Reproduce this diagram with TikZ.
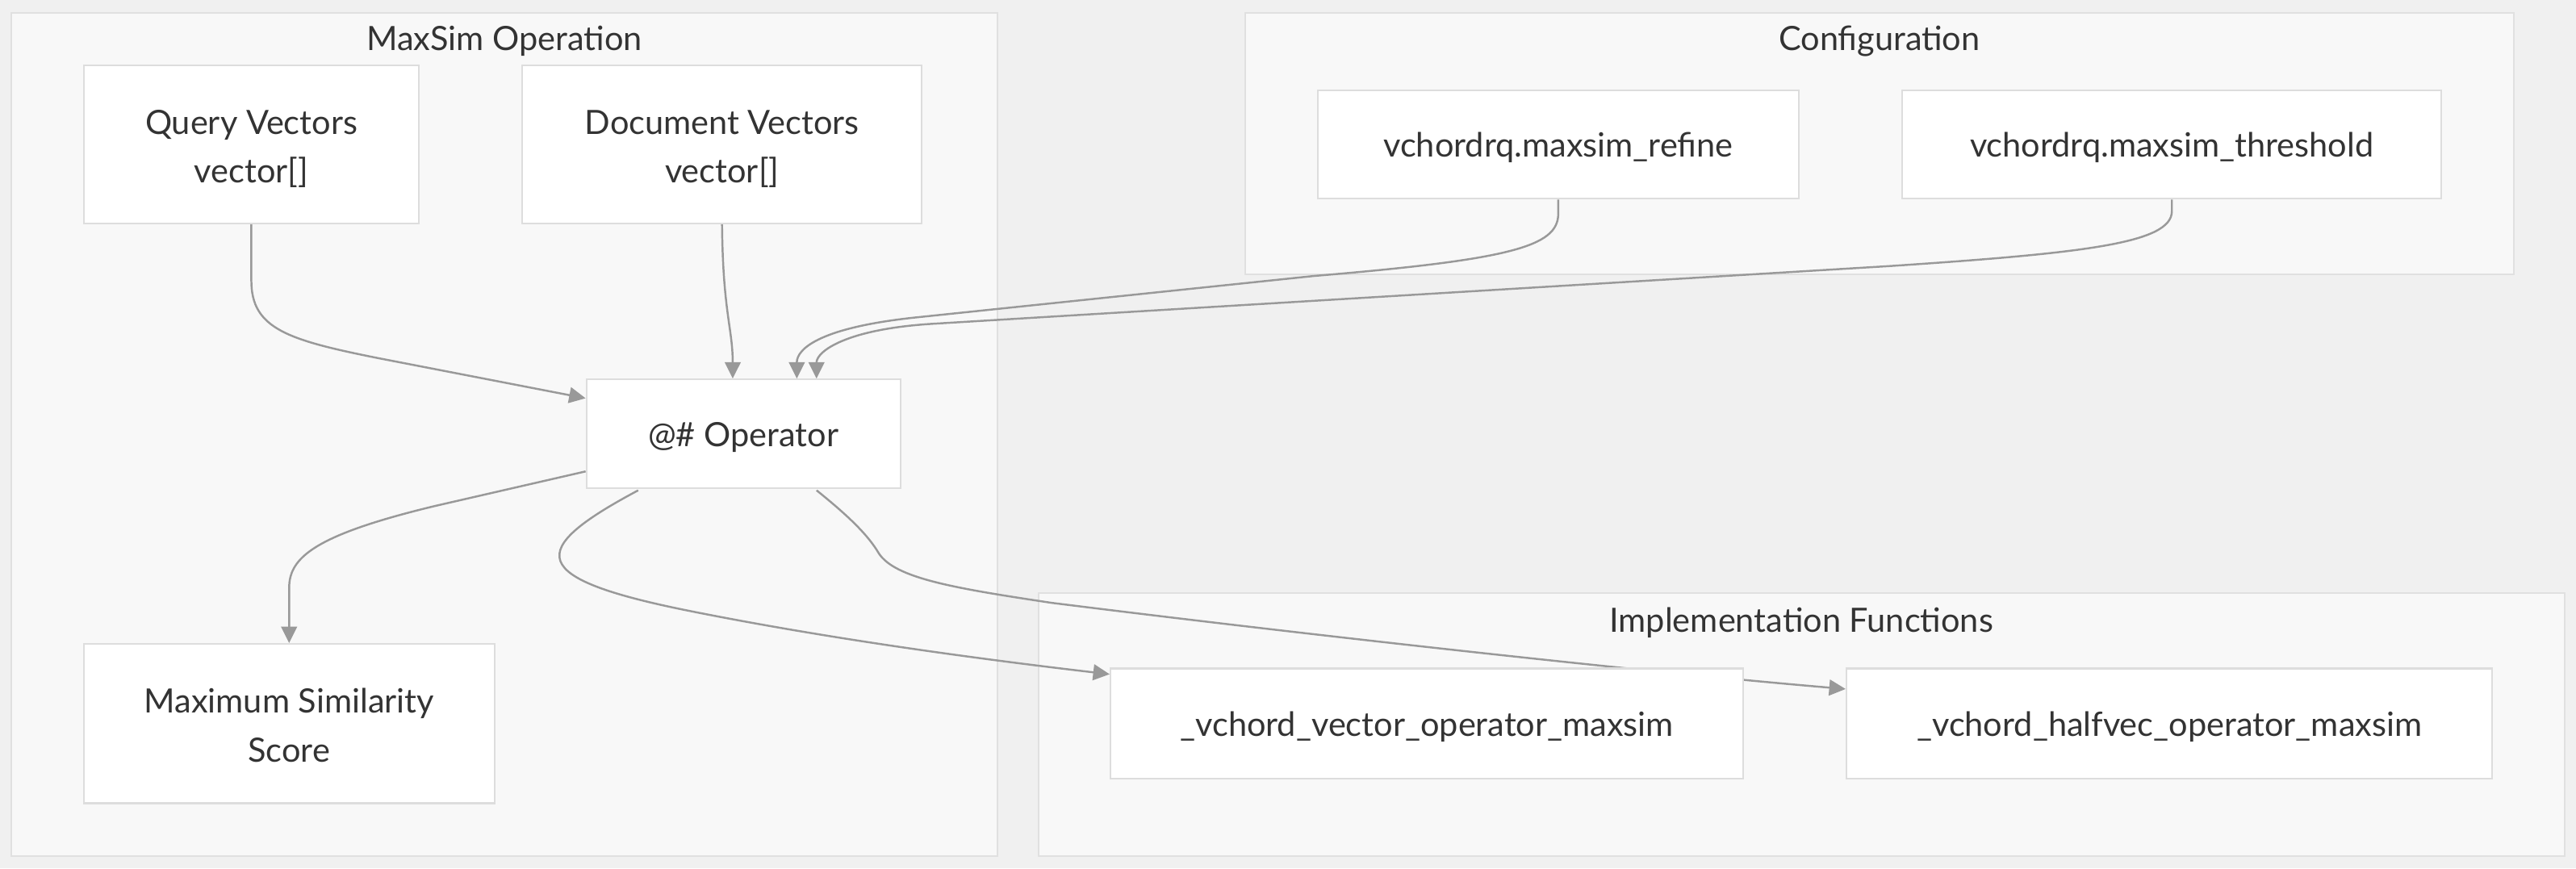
\documentclass[tikz,border=0pt]{standalone}
\usepackage{fontspec}
\setmainfont{Lato}
\usetikzlibrary{arrows.meta,calc}
\definecolor{pagebg}{HTML}{F0F0F0}
\definecolor{clusterbg}{HTML}{F8F8F8}
\definecolor{clusterline}{HTML}{E0E0E0}
\definecolor{boxline}{HTML}{DDDDDD}
\definecolor{linkgray}{HTML}{999999}
\definecolor{textgray}{HTML}{333333}
\pgfdeclarelayer{bg}
\pgfdeclarelayer{edgelayer}
\pgfsetlayers{bg,edgelayer,main}

\begin{document}
\begin{tikzpicture}[x=0.02036cm, y=-0.02036cm,
            every node/.style={font=\fontsize{11.8}{17.2}\selectfont, text=textgray,
                execute at begin node={\rule[-3pt]{0pt}{15pt}}, execute at end node={\rule[-3pt]{0pt}{0pt}}},
            box/.style 2 args={draw=boxline, fill=white, line width=0.6pt, inner sep=0pt, align=center,
                minimum width=#1*0.5793pt, minimum height=#2*0.5793pt},
            twoline/.style={execute at begin node={\rule[-3pt]{0pt}{33pt}}},
            cluster/.style={draw=clusterline, fill=clusterbg, line width=0.6pt}]
            \tikzset{link/.style={draw=linkgray, line width=0.7pt, -{Triangle[length=5.8pt,width=5.6pt]}}}
            \begin{pgfonlayer}{bg}
            \fill[pagebg] (0,0) rectangle (1568,528.6);
            \draw[cluster] (7,8) rectangle (607,521);
            \draw[cluster] (758,8) rectangle (1530,167);
            \draw[cluster] (632,361) rectangle (1561,521);
            \end{pgfonlayer}
            \useasboundingbox (0,0) rectangle (1568,528.6);
            \node (maxsim) at (307,23) {MaxSim Operation};
            \node (config) at (1144,23) {Configuration};
            \node (impl) at (1096.5,377) {Implementation Functions};
            \node[box={204}{96}, twoline] (qv) at (153,88) {Query Vectors\\vector[]};
            \node[box={243}{96}, twoline] (dv) at (439.5,88) {Document Vectors\\vector[]};
            \node[box={191}{66}] (op) at (452.5,264) {@\# Operator};
            \node[box={250}{97}, twoline] (ms) at (176,440.5) {Maximum Similarity\\Score};
            \node[box={293}{66}] (rf) at (948.5,88) {vchordrq.maxsim\_refine};
            \node[box={328}{66}] (th) at (1322,88) {vchordrq.maxsim\_threshold};
            \node[box={385}{67}] (vo) at (868.5,440.5) {\_vchord\_vector\_operator\_maxsim};
            \node[box={393}{67}] (hv) at (1320.5,440.5) {\_vchord\_halfvec\_operator\_maxsim};
            \begin{pgfonlayer}{edgelayer}
            \draw[link] (qv.south) -- (153,171) .. controls (153,200) and (175,207) .. (230,218) -- ($(op.north west)+(0,12)$);
            \draw[link] (dv.south) .. controls (440,190) and (446,200) .. ($(op.north)+(-6.5,0)$);
            \draw[link] (rf.south) -- ++(0,9) .. controls (948,150) and (920,158) .. (800,168) -- (560,193) .. controls (500,199) and (485,212) .. ($(op.north)+(32.5,0)$);
            \draw[link] (th.south) -- ++(0,7) .. controls (1322,148) and (1270,154) .. (1150,162) -- (570,197) .. controls (515,200) and (497,214) .. ($(op.north)+(44.5,0)$);
            \draw[link] ($(op.west)+(0,23)$) -- (265,308) .. controls (190,326) and (176,340) .. (176,358) -- (ms.north);
            \draw[link] ($(op.south west)+(32,1)$) .. controls (320,335) and (320,352) .. (420,372) .. controls (480,384) and (560,397) .. ($(vo.north west)+(0,4)$);
            \draw[link] ($(op.south west)+(140.6,1)$) .. controls (515,313) and (528,325) .. (535,337) .. controls (545,352) and (580,358) .. (640,367) .. controls (800,387) and (1000,409) .. ($(hv.north west)+(0,13)$);
            \end{pgfonlayer}
        \end{tikzpicture}
\end{document}
